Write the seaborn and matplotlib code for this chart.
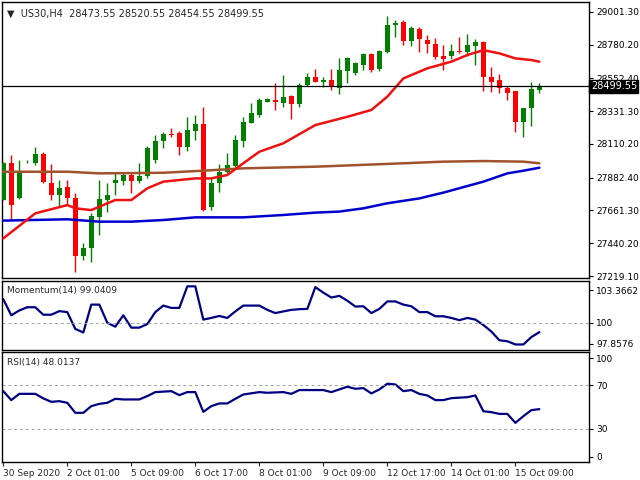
import numpy as np
import pandas as pd
import matplotlib
matplotlib.use("Agg")
import matplotlib.pyplot as plt
import seaborn as sns

sns.set_style("white")
plt.rcParams['font.family'] = ['DejaVu Sans']

opens  = [27732,27980,27743,27986,27980,28042,27849,27766,27818,27743,27354,27406,27620,27732,27849,27862,27901,27862,27894,28002,
          28132,28178,28187,28092,28200,28245,27682,27844,27923,27964,28132,28254,28306,28396,28407,28389,28434,28380,28508,28560,
          28531,28542,28486,28605,28587,28643,28718,28614,28733,28913,28936,28808,28884,28812,28783,28704,28704,28738,28733,28774,
          28801,28560,28542,28486,28470,28261,28351,28473.55]
closes = [27980,27698,27923,27990,28042,27856,27766,27811,27743,27354,27406,27624,27737,27766,27867,27901,27862,27894,28081,28130,
          28178,28171,28092,28204,28245,27664,27849,27923,27968,28137,28261,28317,28407,28414,28391,28430,28380,28508,28560,28531,
          28542,28492,28610,28688,28655,28718,28610,28738,28913,28929,28808,28891,28817,28783,28700,28682,28738,28733,28778,28801,
          28560,28531,28486,28457,28261,28355,28479,28499.55]
highs  = [27991,28036,28002,28002,28092,28058,27975,27867,27867,27782,27440,27642,27867,27844,27912,27923,27912,27980,28099,28171,
          28193,28216,28200,28294,28306,28362,27878,27975,28047,28171,28294,28384,28418,28418,28520,28576,28441,28520,28587,28616,
          28560,28614,28688,28700,28666,28727,28727,28744,28974,28947,28947,28906,28902,28846,28823,28778,28785,28830,28852,28819,
          28808,28628,28582,28502,28470,28355,28531,28520.55]
lows   = [27732,27597,27739,27980,27968,27849,27732,27687,27698,27248,27327,27316,27496,27653,27766,27833,27782,27844,27878,27984,
          28081,28155,28036,28065,28137,27660,27664,27788,27916,27957,28088,28250,28294,28391,28340,28362,28276,28362,28502,28526,
          28492,28474,28448,28520,28576,28610,28598,28605,28726,28834,28778,28774,28733,28722,28682,28610,28682,28722,28704,28643,
          28470,28463,28452,28407,28193,28160,28232,28454.55]

ma_red_idx = [0,4,8,9,11,14,16,18,20,24,26,28,30,32,35,39,43,46,48,50,53,56,58,60,62,64,66,67]
ma_red_val = [27473,27642,27698,27676,27664,27732,27732,27811,27856,27878,27878,27901,27980,28058,28115,28238,28294,28340,28430,28553,
              28621,28666,28711,28744,28722,28688,28677,28666]
ma_brown_idx = [0,8,12,20,25,30,39,50,55,60,65,67]
ma_brown_val = [27923,27923,27912,27916,27930,27946,27957,27980,27991,27995,27991,27980]
ma_blue_idx = [0,8,12,16,20,24,30,35,39,42,45,48,52,55,60,63,65,67]
ma_blue_val = [27593,27602,27586,27586,27597,27615,27615,27631,27647,27654,27676,27710,27743,27782,27856,27912,27930,27950]

mom_idx = [0,1,2,3,4,5,6,7,8,9,10,11,12,13,14,15,16,17,18,19,20,21,22,23,24,25,26,27,28,29,30,31,32,33,34,35,36,37,38,39,40,41,42,43,44,45,46,47,48,49,50,51,52,53,54,55,56,57,58,59,60,61,62,63,64,65,66,67]
mom_val = [102.43,100.77,101.27,101.6,101.6,100.83,100.83,101.2,101.1,99.37,99.0,101.87,101.87,100.0,99.6,100.77,99.5,99.5,99.87,101.1,
           101.77,101.53,101.53,103.75,103.75,100.33,100.5,100.7,100.5,101.17,101.77,101.77,101.77,101.33,101.0,101.17,101.33,101.4,101.43,103.67,
           103.1,102.6,102.77,102.27,101.67,101.7,101.0,101.43,102.2,102.2,101.87,101.7,101.1,101.1,100.67,100.67,100.5,100.27,100.5,100.33,
           99.77,99.1,98.2,98.1,97.77,97.77,98.53,99.04]
rsi_idx = [0,1,2,4,5,6,7,8,9,10,11,12,13,14,15,17,18,19,21,22,23,24,25,26,27,28,29,30,32,33,35,36,37,40,41,43,44,45,46,47,48,49,50,51,52,53,54,55,56,58,59,60,61,62,63,64,65,66,67]
rsi_val = [64.7,56.4,62.2,62.2,58.0,54.8,55.4,53.9,44.6,44.6,50.8,52.9,53.9,57.6,57.0,57.0,60.1,63.8,64.7,61.0,63.8,63.8,45.5,50.8,53.3,53.3,57.6,61.6,63.8,63.2,
           63.8,62.2,65.7,65.7,63.8,68.8,66.9,67.5,62.6,66.3,71.6,70.9,64.7,65.7,62.2,60.7,56.4,56.4,58.2,59.1,60.7,46.1,45.2,43.6,43.6,35.3,41.5,47.1,48.01]

price_ticks = [29001.30,28780.20,28552.40,28331.30,28110.20,27882.40,27661.30,27440.20,27219.10]
date_idx = [0,8,16,24,32,40,48,56,64]
date_labels = ["30 Sep 2020","2 Oct 01:00","5 Oct 09:00","6 Oct 17:00","8 Oct 01:00","9 Oct 09:00","12 Oct 17:00","14 Oct 01:00","15 Oct 09:00"]
last_price = 28499.55

W, H = 640, 480
fig = plt.figure(figsize=(6.4, 4.8), dpi=100)
def axes_px(top, bottom):
    return fig.add_axes([2/W, 1-bottom/H, 587/W, (bottom-top)/H])
ax1 = axes_px(2, 278)
ax2 = axes_px(281, 350)
ax3 = axes_px(352, 462)
xlim = (-0.16, 73.2)
FS = 6.5

for ax in (ax1, ax2, ax3):
    ax.set_xlim(*xlim)
    ax.yaxis.tick_right()
    ax.tick_params(axis='y', direction='out', length=3, labelsize=FS, pad=2, colors='black')
    for s in ax.spines.values():
        s.set_color('black'); s.set_linewidth(1)
    ax.set_xticks([])

# candles
o = np.array(opens); c = np.array(closes); h = np.array(highs); l = np.array(lows)
idx = np.arange(len(o))
cols = np.where(c >= o, '#007f00', '#ff0000')
ax1.vlines(idx, l, h, colors=cols, linewidth=1, zorder=2)
ax1.bar(idx, np.maximum(np.abs(c-o), 4), bottom=np.minimum(o, c), width=0.62, color=cols, zorder=3, linewidth=0)

sns.lineplot(x=ma_brown_idx, y=ma_brown_val, ax=ax1, color='#a0522d', linewidth=1.8, zorder=4)
sns.lineplot(x=ma_blue_idx, y=ma_blue_val, ax=ax1, color='#0000cd', linewidth=1.8, zorder=4)
sns.lineplot(x=ma_red_idx, y=ma_red_val, ax=ax1, color='#ee1111', linewidth=1.8, zorder=5)
ax1.axhline(last_price, color='black', linewidth=0.9, zorder=6)
ax1.set_ylim(27205.6, 29068.8)
ax1.set_yticks(price_ticks)
ax1.set_yticklabels([f"{v:.2f}" for v in price_ticks])
ax1.text(1.003, last_price, f"{last_price:.2f}", transform=ax1.get_yaxis_transform(), va='center', ha='left',
         fontsize=FS+0.5, color='white', bbox=dict(boxstyle='square,pad=0.15', fc='black', ec='black'), zorder=10, clip_on=False)
ax1.text(0.008, 0.975, "\u25bc  US30,H4  28473.55 28520.55 28454.55 28499.55", transform=ax1.transAxes,
         fontsize=FS+0.5, va='top', ha='left')

sns.lineplot(x=mom_idx, y=mom_val, ax=ax2, color='#000080', linewidth=1.6)
ax2.axhline(100, color='#a0a0a0', linewidth=0.7, linestyle=(0, (3, 3)))
ax2.set_ylim(97.2, 104.3)
ax2.set_yticks([103.3662, 100, 97.8576])
ax2.set_yticklabels(["103.3662", "100", "97.8576"])
ax2.text(0.008, 0.93, "Momentum(14) 99.0409", transform=ax2.transAxes, fontsize=FS, va='top', ha='left')

sns.lineplot(x=rsi_idx, y=rsi_val, ax=ax3, color='#000080', linewidth=1.6)
for v in (70, 30):
    ax3.axhline(v, color='#a0a0a0', linewidth=0.7, linestyle=(0, (3, 3)))
ax3.set_ylim(-1, 101)
ax3.set_yticks([95, 70, 30, 4])
ax3.set_yticklabels(["100", "70", "30", "0"])
ax3.text(0.008, 0.95, "RSI(14) 48.0137", transform=ax3.transAxes, fontsize=FS, va='top', ha='left')

ax3.set_xticks(date_idx)
ax3.set_xticklabels(date_labels, ha='left')
ax3.tick_params(axis='x', direction='out', length=3, labelsize=FS, pad=2, bottom=True)

for ax in (ax1, ax2, ax3):
    ax.set_xlabel(''); ax.set_ylabel('')

fig.savefig("out.png", dpi=100)
